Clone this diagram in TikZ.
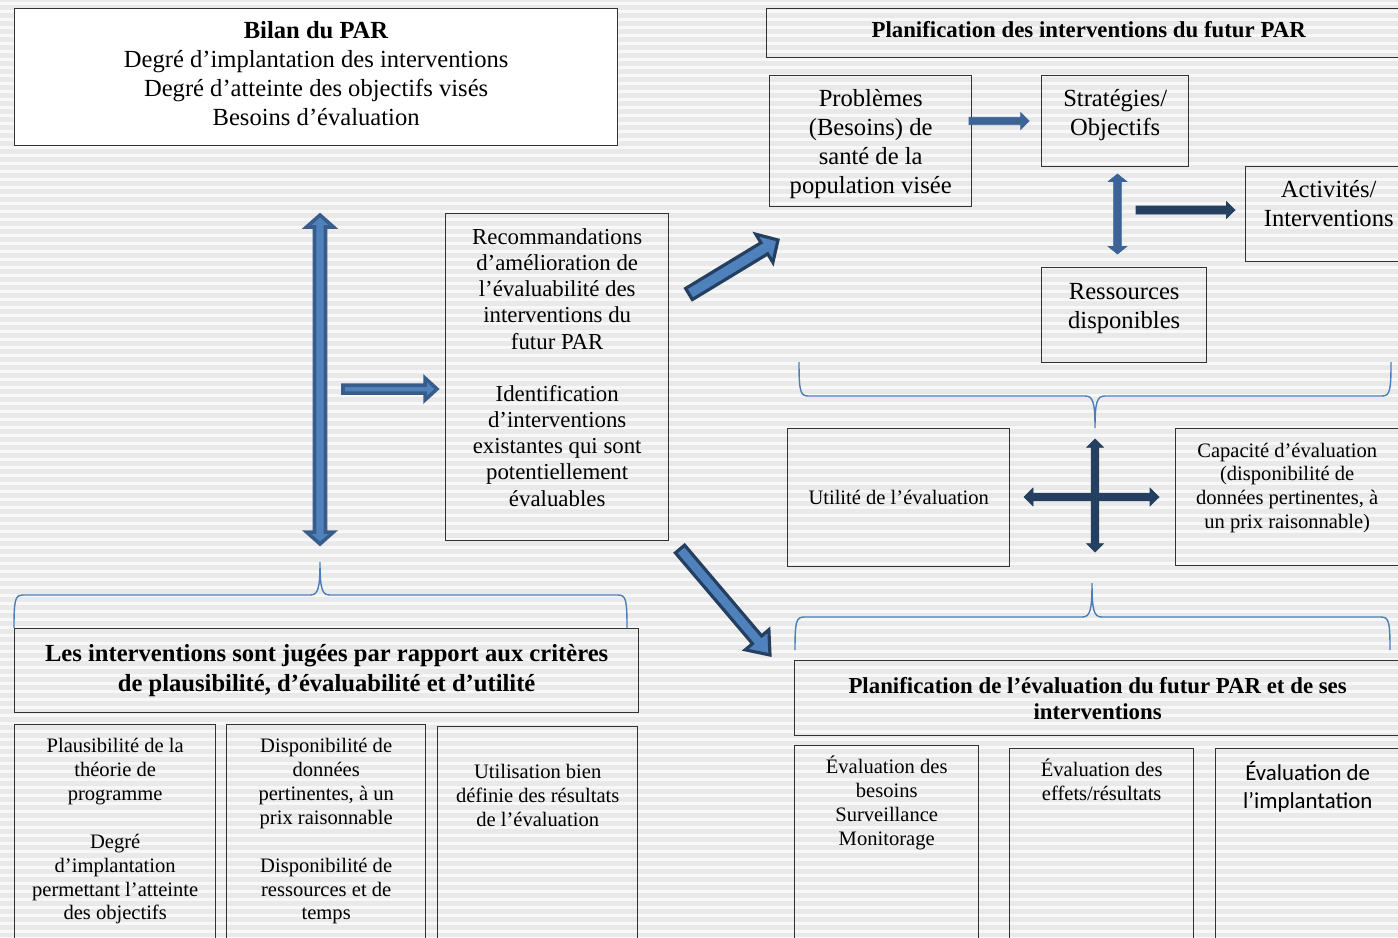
\documentclass[tikz,border=0pt]{standalone}
\usepackage{fontspec}
\setmainfont{Liberation Serif}
\newfontfamily\calibrifont[Ligatures=TeX]{Carlito}
\usepackage{xcolor}
\usepackage{tikz}
\usetikzlibrary{calc,positioning}

\definecolor{arrfill}{HTML}{4F81BD}
\definecolor{arrline}{HTML}{385D8A}
\definecolor{arrnavy}{HTML}{243F60}
\definecolor{arrmid}{HTML}{3C6497}
\definecolor{bracecol}{HTML}{4A7EBB}
\definecolor{bggray}{HTML}{E9E9E9}
\definecolor{bgline}{HTML}{F8F8F8}

% block arrow: tail, tip, half shaft, half head, head length
\newcommand{\sarrow}[6][]{%
  \coordinate (hd) at ($(#3)!#6!(#2)$);
  \draw[#1] ($(#2)!#4!90:(#3)$) -- ($(hd)!#4!90:(#3)$) -- ($(hd)!#5!90:(#3)$) -- (#3)
    -- ($(hd)!#5!-90:(#3)$) -- ($(hd)!#4!-90:(#3)$) -- ($(#2)!#4!-90:(#3)$) -- cycle;
}
% double block arrow
\newcommand{\darrow}[6][]{%
  \coordinate (hda) at ($(#2)!#6!(#3)$);
  \coordinate (hdb) at ($(#3)!#6!(#2)$);
  \draw[#1] (#2) -- ($(hda)!#5!90:(#3)$) -- ($(hda)!#4!90:(#3)$) -- ($(hdb)!#4!90:(#3)$)
    -- ($(hdb)!#5!90:(#3)$) -- (#3) -- ($(hdb)!#5!-90:(#3)$) -- ($(hdb)!#4!-90:(#3)$)
    -- ($(hda)!#4!-90:(#3)$) -- ($(hda)!#5!-90:(#3)$) -- cycle;
}

\begin{document}
\begin{tikzpicture}[x=0.02cm, y=-0.02cm,
box/.style={draw=black!80, line width=0.8pt, anchor=north west, inner sep=2pt},
bigtxt/.style={font=\fontsize{14}{16.5}\selectfont, align=center},
medtxt/.style={font=\fontsize{13}{14.9}\selectfont, align=center},
smalltxt/.style={font=\fontsize{11.7}{13.6}\selectfont, align=center},
headtxt/.style={font=\fontsize{14}{17}\selectfont\bfseries, align=center},
titletxt/.style={font=\fontsize{13}{14.7}\selectfont\bfseries, align=center},
sanstxt/.style={font=\fontsize{13}{15.9}\calibrifont, align=center},
bluearr/.style={fill=arrfill, draw=arrline, line width=2pt},
navyedge/.style={fill=arrfill, draw=arrnavy, line width=1.8pt},
flatarr/.style={fill=arrmid, draw=arrmid, line width=0.4pt},
darkarr/.style={fill=arrnavy, draw=arrnavy, line width=0.4pt},
bracesty/.style={draw=bracecol, line width=0.8pt},
]
\useasboundingbox (0,0) rectangle (1398,937);
\clip (0,0) rectangle (1398,937);

%Background
\fill[bggray] (0,0) rectangle (1398,937);
\foreach \k in {0,...,117}
  \fill[bgline] (0,{8*\k+2}) rectangle (1398,{8*\k+5});

%Nodes
\node[box, fill=white, minimum width=12.06cm, minimum height=2.74cm, bigtxt, text depth=4.5pt] (bilan) at (14,8)
  {\textbf{Bilan du PAR}\\Degré d'implantation des interventions\\Degré d'atteinte des objectifs visés\\Besoins d'évaluation};
\node[box, minimum width=12.88cm, minimum height=0.98cm, titletxt, text depth=4.5pt] (planint) at (766,8)
  {Planification des interventions du futur PAR};
\node[box, minimum width=4.04cm, minimum height=2.62cm, bigtxt, text depth=0pt] (probl) at (769,75)
  {Problèmes\\(Besoins) de\\santé de la\\population visée};
\node[box, minimum width=2.94cm, minimum height=1.82cm, bigtxt, text depth=10.2pt] (strat) at (1041,75)
  {Stratégies/\\Objectifs};
\node[box, minimum width=3.32cm, minimum height=1.9cm, bigtxt, text depth=12.5pt] (activ) at (1245,166)
  {Activités/\\Interventions};
\node[box, minimum width=3.3cm, minimum height=1.9cm, bigtxt, text depth=10pt] (ressour) at (1041,267)
  {Ressources\\disponibles};
\node[box, minimum width=4.46cm, minimum height=6.54cm, medtxt, text depth=11.3pt] (reco) at (445,213)
  {Recommandations\\d'amélioration de\\l'évaluabilité des\\interventions du\\futur PAR\\[14.9pt]Identification\\d'interventions\\existantes qui sont\\potentiellement\\évaluables};
\node[box, minimum width=4.44cm, minimum height=2.76cm, smalltxt] (utilite) at (787,428)
  {Utilité de l'évaluation};
\node[box, minimum width=4.46cm, minimum height=2.74cm, smalltxt, text depth=13pt] (capacite) at (1175,428)
  {Capacité d'évaluation\\(disponibilité de\\données pertinentes, à\\un prix raisonnable)};
\node[box, minimum width=12.48cm, minimum height=1.68cm, headtxt] (jugees) at (14,628)
  {Les interventions sont jugées par rapport aux critères\\de plausibilité, d'évaluabilité et d'utilité};
\node[box, minimum width=12.12cm, minimum height=1.5cm, titletxt] (planeval) at (794,660)
  {Planification de l'évaluation du futur PAR et de ses\\interventions};

% bottom boxes
\node[box, minimum width=4.02cm, minimum height=4.6cm] (plaus) at (14,724) {};
\node[box, minimum width=3.98cm, minimum height=4.6cm] (dispo) at (226,724) {};
\node[box, minimum width=4.0cm, minimum height=4.6cm] (utilis) at (437,726) {};
\node[box, minimum width=3.68cm, minimum height=4.6cm] (ebesoins) at (794,745) {};
\node[box, minimum width=3.68cm, minimum height=4.6cm] (eeffets) at (1009,748) {};
\node[box, minimum width=3.68cm, minimum height=4.6cm] (eimpl) at (1215,748) {};

\node[smalltxt, inner sep=0pt, below=8pt of plaus.north] (plaustxt)
  {Plausibilité de la\\théorie de\\programme\\[13.6pt]Degré\\d'implantation\\permettant l'atteinte\\des objectifs};
\node[smalltxt, inner sep=0pt, below=8pt of dispo.north] (dispotxt)
  {Disponibilité de\\données\\pertinentes, à un\\prix raisonnable\\[13.6pt]Disponibilité de\\ressources et de\\temps};
\node[smalltxt, inner sep=0pt, below=21.5pt of utilis.north] (utilistxt)
  {Utilisation bien\\définie des résultats\\de l'évaluation};
\node[smalltxt, inner sep=0pt, below=6pt of ebesoins.north] (ebesoinstxt)
  {Évaluation des\\besoins\\Surveillance\\Monitorage};
\node[smalltxt, inner sep=0pt, below=6pt of eeffets.north] (eeffetstxt)
  {Évaluation des\\effets/résultats};
\node[sanstxt, inner sep=0pt, below=7.5pt of eimpl.north] (eimpltxt)
  {Évaluation de\\l'implantation};

%Braces
\draw[bracesty] (799,362) .. controls (799,390) and (800,396) .. (808,396) -- (1085,396)
  .. controls (1093,396) and (1095,402) .. (1095,428)
  .. controls (1095,402) and (1097,396) .. (1105,396) -- (1382,396)
  .. controls (1390,396) and (1391,390) .. (1391,362);
\draw[bracesty] (14,628) .. controls (14,600) and (15,595) .. (23,595) -- (310,595)
  .. controls (318,595) and (320,589) .. (320,562)
  .. controls (320,589) and (322,595) .. (330,595) -- (618,595)
  .. controls (626,595) and (627,600) .. (627,628);
\draw[bracesty] (795,650) .. controls (795,622) and (796,617) .. (804,617) -- (1082,617)
  .. controls (1090,617) and (1092,611) .. (1092,583)
  .. controls (1092,611) and (1094,617) .. (1102,617) -- (1381,617)
  .. controls (1389,617) and (1390,622) .. (1390,650);

%Arrows
\coordinate (leftup) at (320,215);
\coordinate (leftdown) at (320,544);
\coordinate (midtail) at (343,389);
\coordinate (midtip) at (437,389);
\coordinate (uptail) at (689,294);
\coordinate (uptip) at (778,240);
\coordinate (downtail) at (680,549);
\coordinate (downtip) at (770,655);
\coordinate (pstail) at (969,121);
\coordinate (pstip) at (1029,121);
\coordinate (srup) at (1117.5,174);
\coordinate (srdown) at (1117.5,254);
\coordinate (satail) at (1136,210);
\coordinate (satip) at (1235,210);
\coordinate (crossup) at (1095,439);
\coordinate (crossdown) at (1095,552);
\coordinate (crossleft) at (1024,497);
\coordinate (crossright) at (1159,497);

\darrow[bluearr]{leftup}{leftdown}{0.11cm}{0.27cm}{0.24cm}
\sarrow[bluearr]{midtail}{midtip}{0.08cm}{0.22cm}{0.24cm}
\sarrow[navyedge]{uptail}{uptip}{0.13cm}{0.33cm}{0.32cm}
\sarrow[navyedge]{downtail}{downtip}{0.12cm}{0.31cm}{0.4cm}
\sarrow[flatarr]{pstail}{pstip}{0.074cm}{0.166cm}{0.166cm}
\darrow[flatarr]{srup}{srdown}{0.076cm}{0.184cm}{0.15cm}
\sarrow[darkarr]{satail}{satip}{0.08cm}{0.166cm}{0.17cm}
\darrow[darkarr]{crossup}{crossdown}{0.076cm}{0.166cm}{0.166cm}
\darrow[darkarr]{crossleft}{crossright}{0.076cm}{0.176cm}{0.18cm}
\end{tikzpicture}
\end{document}
